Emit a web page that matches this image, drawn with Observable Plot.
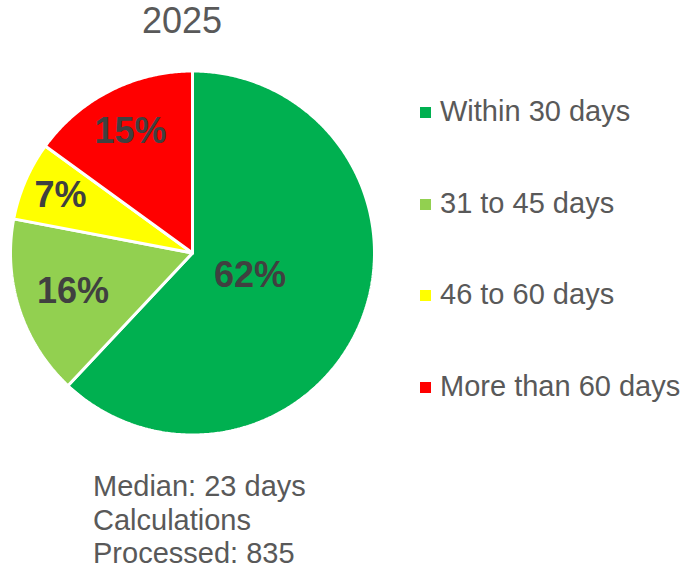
<!DOCTYPE html>
<html>
<head>
<meta charset="utf-8">
<script src="https://cdn.jsdelivr.net/npm/d3@7"></script>
<script src="https://cdn.jsdelivr.net/npm/@observablehq/plot@0.6"></script>
<style>
  html, body { margin: 0; padding: 0; background: #fff; }
  #wrap { position: relative; width: 687px; height: 569px; overflow: hidden;
          font-family: "Liberation Sans", Arial, sans-serif; color: #595959; }
  #chart { position: absolute; left: 0; top: 0; }
  #title { position: absolute; left: 82px; width: 200px; top: 3px; text-align: center;
           font-size: 36px; line-height: 36px; white-space: nowrap; }
  #legend { position: absolute; left: 420px; top: 97px; }
  .item { display: flex; align-items: center; height: 29px; margin-bottom: 62.5px;
          font-size: 29px; line-height: 29px; white-space: nowrap; }
  .sw { width: 11px; height: 11px; margin-right: 9px; flex: none; position: relative; top: 1px; }
  #caption { position: absolute; left: 93px; top: 472px; font-size: 29px; line-height: 29px; white-space: nowrap; }
  #caption div { height: 29px; margin-bottom: 4.7px; }
  #caption div:last-child { margin-bottom: 0; }
</style>
</head>
<body>
<div id="wrap">
  <div id="chart"></div>
  <div id="title"></div>
  <div id="legend"></div>
  <div id="caption"></div>
</div>
<script>
// ---- data ----
const title = "2025";
const categories = ["Within 30 days", "31 to 45 days", "46 to 60 days", "More than 60 days"];
const shares = [62, 16, 7, 15];
const colors = ["#00B050", "#92D050", "#FFFF00", "#FF0000"];
const captionLines = ["Median: 23 days", "Calculations", "Processed: 835"];
// label placement (fraction of radius), as in the original
const labelRadius = [0.34, 0.69, 0.79, 0.75];

// ---- geometry (unit circle, clockwise from 12 o'clock) ----
const total = d3.sum(shares);
let acc = 0;
const slices = categories.map((c, i) => {
  const a0 = acc / total * 2 * Math.PI;
  acc += shares[i];
  const a1 = acc / total * 2 * Math.PI;
  return {category: c, value: shares[i], a0, a1, mid: (a0 + a1) / 2, lr: labelRadius[i]};
});
const poly = [];
slices.forEach(s => {
  poly.push({category: s.category, x: 0, y: 0});
  const n = Math.max(2, Math.ceil((s.a1 - s.a0) / (Math.PI / 360)));
  for (let k = 0; k <= n; k++) {
    const a = s.a0 + (s.a1 - s.a0) * k / n;
    poly.push({category: s.category, x: Math.sin(a), y: Math.cos(a)});
  }
  poly.push({category: s.category, x: 0, y: 0});
});

const cx = 192, cy = 252.5, r = 182;
const chart = Plot.plot({
  width: 687,
  height: 569,
  margin: 0,
  style: {fontFamily: "'Liberation Sans', Arial, sans-serif", background: "transparent"},
  x: {domain: [-1, 1], range: [cx - r, cx + r], axis: null},
  y: {domain: [-1, 1], range: [cy + r, cy - r], axis: null},
  color: {domain: categories, range: colors},
  marks: [
    Plot.line(poly, {x: "x", y: "y", z: "category", fill: "category",
      stroke: "white", strokeWidth: 3, strokeLinejoin: "miter", curve: "linear"}),
    Plot.text(slices, {
      x: d => d.lr * Math.sin(d.mid),
      y: d => d.lr * Math.cos(d.mid),
      text: d => d.value + "%",
      fontSize: 36, fontWeight: "bold", fill: "#404040",
      textAnchor: "middle", lineAnchor: "middle"
    })
  ]
});
document.getElementById("chart").append(chart);

document.getElementById("title").textContent = title;
const legend = d3.select("#legend");
categories.forEach((c, i) => {
  const it = legend.append("div").attr("class", "item");
  it.append("div").attr("class", "sw").style("background", colors[i]);
  it.append("span").text(c);
});
const cap = d3.select("#caption");
captionLines.forEach(t => cap.append("div").text(t));
</script>
</body>
</html>
